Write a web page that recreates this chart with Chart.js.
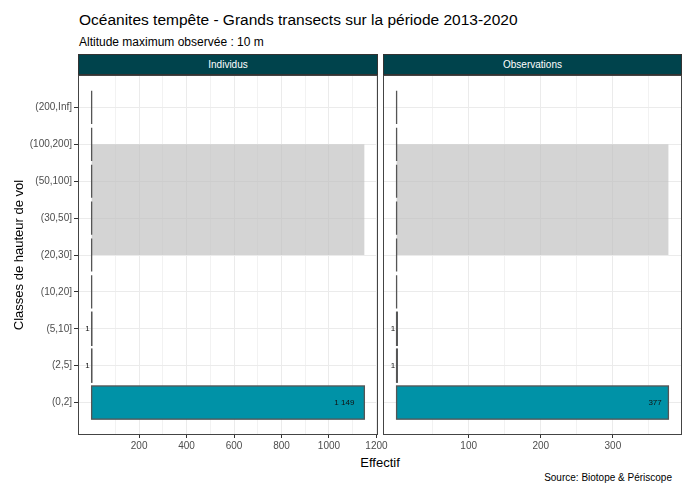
<!DOCTYPE html>
<html>
<head>
<meta charset="utf-8">
<script src="https://cdn.jsdelivr.net/npm/chart.js@4/dist/chart.umd.min.js"></script>
<style>
  body { margin: 0; width: 682px; height: 484px; position: relative; background: #fff;
         font-family: "Liberation Sans", Arial, sans-serif; overflow: hidden; }
  canvas { position: absolute; left: 0; top: 0; }
  .txt { position: absolute; white-space: nowrap; line-height: 1; }
  .strip { position: absolute; top: 54px; height: 21px; background: #00434c; box-sizing: border-box;
           border: 1px solid #333; color: #fff; font-size: 10px; text-align: center; line-height: 19px; }
</style>
</head>
<body>
<div class="txt" style="left:79px;top:12px;font-size:15.5px;color:#000;">Océanites tempête - Grands transects sur la période 2013-2020</div>
<div class="txt" style="left:79px;top:36px;font-size:12px;color:#000;">Altitude maximum observée : 10 m</div>
<div class="strip" style="left:78px;width:300px;">Individus</div>
<div class="strip" style="left:383px;width:299px;">Observations</div>
<div class="txt" style="left:380px;top:456px;font-size:13px;color:#000;transform:translateX(-50%);">Effectif</div>
<div class="txt" style="right:10px;top:473px;font-size:10px;color:#000;">Source: Biotope &amp; Périscope</div>

<canvas id="left" width="682" height="484"></canvas>
<canvas id="right" width="682" height="484"></canvas>

<script>
// Flight-height classes, bottom to top
const heightClasses = ['(0,2]', '(2,5]', '(5,10]', '(10,20]', '(20,30]', '(30,50]', '(50,100]', '(100,200]', '(200,Inf]'];
// Counts per class
const individus    = [1149, 1, 1, 0, 0, 0, 0, 0, 0];
const observations = [377, 1, 1, 0, 0, 0, 0, 0, 0];
// Labelled x ticks for each panel
const individusTicks    = [200, 400, 600, 800, 1000, 1200];
const observationsTicks = [100, 200, 300];
// Shaded band of classes (lower and upper class)
const bandClasses = ['(20,30]', '(100,200]'];

const BAR_FILL = '#0092a7';
const BAR_EDGE = '#555555';
const GRID = '#ebebeb';
const GRID_MINOR = '#f2f2f2';
const AXIS_TEXT = '#4d4d4d';

function fmtValue(v) {
  return String(v).replace(/\B(?=(\d{3})+(?!\d))/g, ' ');
}

const panelPlugin = {
  id: 'panel',
  beforeDatasetsDraw(chart) {
    const { ctx, scales: { x, y } } = chart;
    const values = chart.data.datasets[0].data.map(d => d.x);
    const top = y.getPixelForValue(heightClasses.indexOf(bandClasses[1]));
    const bottom = y.getPixelForValue(heightClasses.indexOf(bandClasses[0]));
    const x0 = x.getPixelForValue(0);
    const x1 = x.getPixelForValue(Math.max(...values));
    ctx.save();
    ctx.fillStyle = 'rgba(189,189,189,0.65)';
    ctx.fillRect(x0, top, x1 - x0, bottom - top);
    ctx.restore();
  },
  afterDatasetsDraw(chart) {
    const { ctx } = chart;
    const meta = chart.getDatasetMeta(0);
    const data = chart.data.datasets[0].data;
    ctx.save();
    ctx.strokeStyle = BAR_EDGE;
    ctx.lineWidth = 1.3;
    meta.data.forEach((el) => {
      const p = el.getProps(['x', 'y', 'base', 'height'], true);
      ctx.strokeRect(p.base, p.y - p.height / 2, p.x - p.base, p.height);
    });
    ctx.font = '8px "Liberation Sans", Arial, sans-serif';
    ctx.fillStyle = '#111';
    ctx.textAlign = 'right';
    ctx.textBaseline = 'middle';
    meta.data.forEach((el, i) => {
      const v = data[i].x;
      if (!v) return;
      const p = el.getProps(['x', 'y'], true);
      const label = fmtValue(v);
      const w = ctx.measureText(label).width;
      ctx.fillText(label, p.x - 0.5 * w, p.y + 0.5);
    });
    ctx.restore();
  },
  afterDraw(chart) {
    const { ctx, chartArea: a } = chart;
    ctx.save();
    ctx.strokeStyle = '#444';
    ctx.lineWidth = 1;
    ctx.strokeRect(Math.round(a.left) + 0.5, Math.round(a.top) + 0.5,
                   Math.round(a.right - a.left) - 1, Math.round(a.bottom - a.top) - 1);
    ctx.restore();
  }
};

function makePanel(canvasId, values, majorTicks, showY, padLeft, padRight) {
  const maxV = Math.max(...values);
  const step = majorTicks[1] - majorTicks[0];
  const xMin = -0.05 * maxV, xMax = 1.05 * maxV;
  const gridTicks = [];
  for (let v = step / 2; v <= xMax; v += step / 2) gridTicks.push(v);
  const isMajor = v => majorTicks.includes(v);

  return new Chart(document.getElementById(canvasId), {
    type: 'bar',
    data: {
      datasets: [{
        data: values.map((v, i) => ({ x: v, y: i })),
        backgroundColor: BAR_FILL,
        borderWidth: 0,
        categoryPercentage: 1,
        barPercentage: 0.9
      }]
    },
    options: {
      indexAxis: 'y',
      responsive: false,
      animation: false,
      devicePixelRatio: 1,
      layout: { padding: { top: 75, left: padLeft, right: padRight, bottom: 0 } },
      plugins: { legend: { display: false }, tooltip: { enabled: false }, title: { display: false } },
      scales: {
        x: {
          type: 'linear',
          min: xMin,
          max: xMax,
          afterBuildTicks: s => { s.ticks = gridTicks.map(v => ({ value: v })); },
          afterFit: s => { s.height = 49; },
          border: { display: false },
          grid: {
            color: c => isMajor(c.tick.value) ? GRID : GRID_MINOR,
            tickColor: c => isMajor(c.tick.value) ? '#333' : 'rgba(0,0,0,0)',
            tickLength: 3
          },
          ticks: {
            autoSkip: false,
            maxRotation: 0,
            padding: 2,
            color: AXIS_TEXT,
            font: { family: '"Liberation Sans", Arial, sans-serif', size: 10 },
            callback: v => isMajor(v) ? String(v) : ''
          }
        },
        y: {
          type: 'linear',
          offset: false,
          min: -0.88,
          max: heightClasses.length - 1 + 0.88,
          afterBuildTicks: s => { s.ticks = heightClasses.map((c, i) => ({ value: i })); },
          afterFit: s => { s.width = showY ? 78 : 0; },
          border: { display: false },
          grid: {
            offset: false,
            color: GRID,
            tickColor: '#333',
            tickLength: showY ? 4 : 0,
            drawTicks: showY
          },
          ticks: {
            display: showY,
            autoSkip: false,
            padding: 2,
            color: AXIS_TEXT,
            font: { family: '"Liberation Sans", Arial, sans-serif', size: 10 },
            callback: v => heightClasses[v]
          },
          title: {
            display: showY,
            text: 'Classes de hauteur de vol',
            color: '#000',
            font: { family: '"Liberation Sans", Arial, sans-serif', size: 13 },
            padding: { top: 12, bottom: 0 }
          }
        }
      }
    },
    plugins: [panelPlugin]
  });
}

makePanel('left', individus, individusTicks, true, 0, 682 - 378);
makePanel('right', observations, observationsTicks, false, 383, 0);
</script>
</body>
</html>
